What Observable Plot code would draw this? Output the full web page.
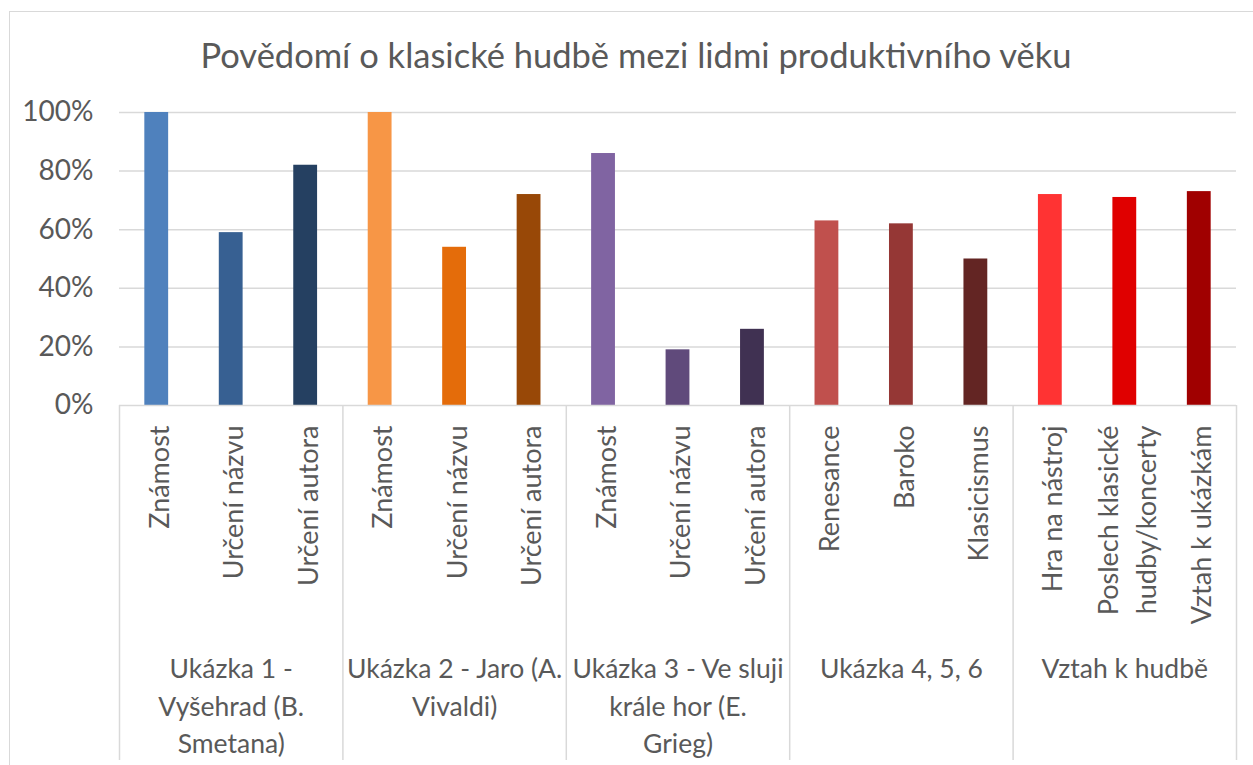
<!DOCTYPE html>
<html>
<head>
<meta charset="utf-8">
<script src="https://cdn.jsdelivr.net/npm/d3@7"></script>
<script src="https://cdn.jsdelivr.net/npm/@observablehq/plot@0.6"></script>
<style>
  html, body { margin: 0; padding: 0; background: #fff; overflow: hidden; }
  #page { position: relative; width: 1253px; height: 765px; overflow: hidden; font-family: Lato, "Open Sans", sans-serif; }
  #frame { position: absolute; left: 9px; top: 11px; width: 1260px; height: 800px; border: 1.5px solid #D9D9D9; box-sizing: border-box; }
  #title { position: absolute; left: 9px; width: 1254px; top: 33px; line-height: 44px; text-align: center; font-size: 34.5px; color: #595959; }
  #chart { position: absolute; left: 0; top: 90px; }
</style>
</head>
<body>
<div id="page">
  <div id="frame"></div>
  <div id="title">Povědomí o klasické hudbě mezi lidmi produktivního věku</div>
  <div id="chart"></div>
</div>
<script>
const titleText = "Povědomí o klasické hudbě mezi lidmi produktivního věku";
const groups = [
  "Ukázka 1 -\nVyšehrad (B.\nSmetana)",
  "Ukázka 2 - Jaro (A.\nVivaldi)",
  "Ukázka 3 - Ve sluji\nkrále hor (E.\nGrieg)",
  "Ukázka 4, 5, 6",
  "Vztah k hudbě"
];
const groupIndex = [0,0,0, 1,1,1, 2,2,2, 3,3,3, 4,4,4];
const subcats = [
  "Známost", "Určení názvu", "Určení autora",
  "Známost", "Určení názvu", "Určení autora",
  "Známost", "Určení názvu", "Určení autora",
  "Renesance", "Baroko", "Klasicismus",
  "Hra na nástroj", "Poslech klasické\nhudby/koncerty", "Vztah k ukázkám"
];
const values = [100, 59, 82, 100, 54, 72, 86, 19, 26, 63, 62, 50, 72, 71, 73];
const yTicks = [0, 20, 40, 60, 80, 100];
const barColors = [
  "#4F81BD", "#376092", "#254061",
  "#F79646", "#E46C0A", "#984807",
  "#8064A2", "#604A7B", "#403152",
  "#C0504D", "#953735", "#632523",
  "#FF3333", "#E00000", "#A00000"
];

const data = subcats.map((label, i) => ({i, label, value: values[i], color: barColors[i], group: groupIndex[i]}));
const groupData = groups.map((g, gi) => {
  const idx = data.filter(d => d.group === gi).map(d => d.i);
  return {text: g, start: d3.min(idx), end: d3.max(idx) + 1};
});
const boundaries = [...new Set(groupData.flatMap(g => [g.start, g.end]))];

const W = 1253, H = 675;
const mT = 22, mB = 360, mL = 119, mR = 17;
const plotH = H - mT - mB;
const grid = "#D9D9D9";
const txt = "#595959";
const barHalf = 0.16;

const chart = Plot.plot({
  width: W, height: H,
  marginTop: mT, marginBottom: mB, marginLeft: mL, marginRight: mR,
  style: {fontFamily: "Lato, 'Open Sans', sans-serif", color: txt, background: "transparent", overflow: "visible"},
  x: {type: "linear", domain: [0, subcats.length], axis: null},
  y: {domain: [0, 100], axis: null},
  marks: [
    Plot.gridY(yTicks.filter(t => t > 0), {stroke: grid, strokeOpacity: 1, strokeWidth: 1.5}),
    Plot.axisY(yTicks, {tickSize: 0, tickPadding: 26, tickFormat: d => d + "%", fontSize: 28, fill: txt, label: null}),
    Plot.rectY(data, {x1: d => d.i + 0.5 - barHalf, x2: d => d.i + 0.5 + barHalf, y: "value", fill: "color"}),
    Plot.ruleY([0], {stroke: grid, strokeWidth: 1.5}),
    Plot.ruleX(boundaries, {x: d => d, stroke: grid, strokeWidth: 1.5, insetTop: plotH, insetBottom: -355}),
    Plot.text(data, {x: d => d.i + 0.5, text: "label", frameAnchor: "bottom", dy: 20, rotate: -90, textAnchor: "end", lineAnchor: "middle", fontSize: 27, fill: txt, lineHeight: 1.4}),
    Plot.text(groupData, {x: d => (d.start + d.end) / 2, text: "text", frameAnchor: "bottom", dy: 246, lineAnchor: "top", fontSize: 26.5, lineHeight: 37.5 / 26.5, fill: txt})
  ]
});
document.getElementById("chart").appendChild(chart);
</script>
</body>
</html>
